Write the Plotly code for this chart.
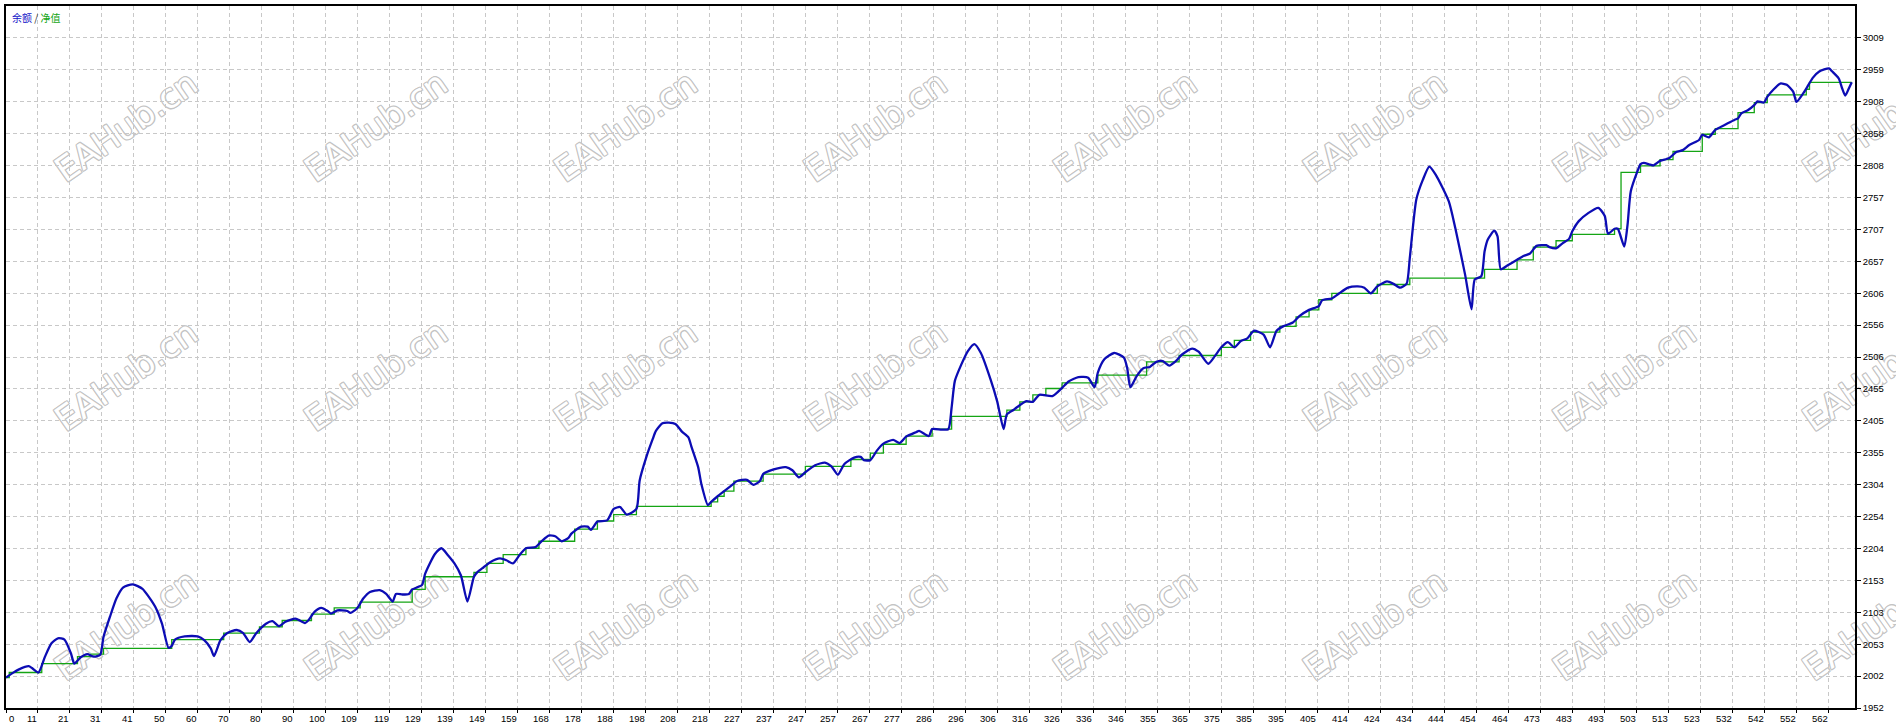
import plotly.graph_objects as go

# Blue line (余额): (trade number, value)
BALANCE = [
    (0, 2000), (2, 2007), (4, 2013), (7, 2018), (8, 2015), (10, 2008), (12, 2033), (14, 2054),
    (16, 2062), (18, 2060), (20, 2038), (21, 2022), (23, 2032), (25, 2037), (27, 2033), (29, 2036),
    (30, 2064), (32, 2096), (34, 2125), (36, 2142), (39, 2147), (42, 2140), (44, 2127), (46, 2111),
    (48, 2085), (50, 2047), (51, 2050), (52, 2060), (55, 2065), (59, 2065), (61, 2059), (63, 2046),
    (64, 2034), (66, 2059), (68, 2070), (71, 2075), (73, 2070), (75, 2056), (77, 2070), (80, 2085),
    (82, 2089), (84, 2081), (86, 2088), (89, 2093), (90, 2091), (92, 2086), (93, 2090), (95, 2104),
    (97, 2110), (99, 2105), (100, 2101), (102, 2106), (105, 2105), (106, 2102), (108, 2109), (110, 2125),
    (112, 2135), (115, 2138), (117, 2132), (119, 2120), (120, 2132), (122, 2131), (124, 2132), (125, 2139),
    (128, 2146), (129, 2164), (132, 2195), (134, 2204), (136, 2193), (138, 2180), (140, 2161), (142, 2120),
    (144, 2159), (145, 2166), (147, 2174), (149, 2182), (152, 2188), (154, 2185), (156, 2180), (158, 2193),
    (160, 2204), (163, 2206), (165, 2216), (167, 2224), (169, 2223), (171, 2215), (173, 2220), (174, 2227),
    (177, 2238), (179, 2238), (180, 2233), (182, 2246), (185, 2248), (187, 2266), (189, 2269), (191, 2257),
    (194, 2266), (195, 2311), (197, 2347), (199, 2376), (200, 2389), (202, 2401), (204, 2402), (206, 2400),
    (208, 2388), (210, 2379), (211, 2363), (213, 2332), (214, 2305), (216, 2272), (217, 2277), (219, 2286),
    (221, 2294), (223, 2302), (225, 2310), (228, 2312), (230, 2304), (232, 2310), (233, 2321), (236, 2328),
    (240, 2332), (242, 2327), (244, 2316), (246, 2324), (249, 2335), (252, 2339), (254, 2333), (256, 2320),
    (258, 2337), (261, 2347), (263, 2348), (264, 2343), (266, 2343), (268, 2358), (270, 2369), (273, 2375),
    (275, 2370), (277, 2380), (280, 2387), (281, 2389), (284, 2381), (285, 2392), (288, 2391), (290, 2392),
    (291, 2426), (292, 2468), (294, 2494), (296, 2515), (298, 2526), (300, 2512), (303, 2470), (305, 2436),
    (307, 2392), (308, 2415), (310, 2422), (311, 2426), (314, 2436), (316, 2435), (318, 2446), (322, 2444),
    (325, 2457), (327, 2467), (330, 2474), (333, 2473), (335, 2458), (336, 2481), (338, 2502), (341, 2512),
    (344, 2505), (345, 2489), (346, 2458), (348, 2476), (350, 2488), (352, 2490), (354, 2498), (356, 2499),
    (358, 2492), (360, 2499), (362, 2510), (365, 2519), (367, 2514), (370, 2495), (372, 2507), (374, 2521),
    (376, 2529), (378, 2521), (380, 2531), (382, 2535), (384, 2547), (387, 2541), (389, 2521), (391, 2547),
    (393, 2554), (396, 2560), (398, 2570), (401, 2580), (404, 2586), (405, 2595), (408, 2598), (410, 2605),
    (413, 2615), (416, 2617), (418, 2615), (420, 2606), (422, 2617), (425, 2625), (427, 2621), (429, 2615),
    (431, 2621), (432, 2662), (434, 2754), (436, 2785), (438, 2806), (440, 2793), (444, 2751), (446, 2709),
    (449, 2636), (451, 2581), (452, 2628), (454, 2633), (455, 2672), (456, 2691), (458, 2705), (459, 2696),
    (460, 2644), (462, 2650), (465, 2659), (467, 2665), (469, 2669), (471, 2681), (474, 2682), (475, 2679),
    (477, 2677), (479, 2685), (481, 2692), (482, 2704), (484, 2720), (487, 2733), (490, 2741), (492, 2728),
    (493, 2700), (495, 2708), (496, 2708), (498, 2680), (499, 2714), (500, 2767), (502, 2798), (503, 2810),
    (504, 2812), (506, 2809), (507, 2808), (509, 2815), (511, 2818), (512, 2820), (514, 2829), (516, 2832),
    (518, 2840), (521, 2848), (522, 2856), (524, 2852), (526, 2864), (529, 2872), (532, 2880), (533, 2882),
    (534, 2890), (536, 2895), (538, 2903), (539, 2909), (541, 2907), (542, 2916), (544, 2928), (546, 2937),
    (548, 2935), (550, 2924), (551, 2908), (553, 2921), (554, 2929), (556, 2946), (558, 2956), (561, 2961),
    (562, 2956), (564, 2945), (565, 2930), (566, 2918), (567, 2928), (568, 2939),
]

# Green line (净值): trade number where each level starts, level
EQUITY = [
    (0, 2000), (1, 2008), (11, 2022), (22, 2033), (26, 2037), (30, 2046), (51, 2060), (67, 2070),
    (78, 2080), (85, 2090), (94, 2100), (101, 2110), (109, 2119), (125, 2139), (129, 2159), (144, 2166),
    (148, 2180), (153, 2194), (160, 2204), (164, 2215), (175, 2234), (182, 2247), (187, 2257), (194, 2270),
    (217, 2277), (219, 2286), (221, 2294), (224, 2310), (233, 2321), (246, 2333), (260, 2344), (266, 2354),
    (270, 2368), (277, 2381), (285, 2392), (291, 2412), (308, 2422), (312, 2435), (316, 2446), (320, 2456),
    (325, 2465), (336, 2477), (351, 2498), (361, 2508), (374, 2521), (378, 2532), (383, 2545), (392, 2554),
    (397, 2569), (401, 2580), (404, 2596), (408, 2606), (422, 2620), (432, 2630), (455, 2644), (465, 2659),
    (470, 2679), (477, 2689), (482, 2699), (495, 2708), (497, 2797), (503, 2807), (509, 2817), (513, 2830),
    (522, 2857), (526, 2866), (533, 2891), (538, 2907), (542, 2919), (554, 2928), (555, 2939), (568, 2939),
]

X_TICK_LABELS = ["0", "11", "21", "31", "41", "50", "60", "70", "80", "90", "100", "109", "119", "129",
                 "139", "149", "159", "168", "178", "188", "198", "208", "218", "227", "237", "247",
                 "257", "267", "277", "286", "296", "306", "316", "326", "336", "346", "355", "365",
                 "375", "385", "395", "405", "414", "424", "434", "444", "454", "464", "473", "483",
                 "493", "503", "513", "523", "532", "542", "552", "562"]
Y_TICK_LABELS = ["1952", "2002", "2053", "2103", "2153", "2204", "2254", "2304", "2355", "2405", "2455",
                 "2506", "2556", "2606", "2657", "2707", "2757", "2808", "2858", "2908", "2959", "3009"]

X_STEP = 9.84          # trades between vertical grid lines
Y_MIN, Y_STEP = 1952, 151 / 3
X_MAX = 569

W, H = 1896, 726
ML, MR, MT, MB = 4, 41, 4, 18
GRID = "#c8c8c8"
LABEL_FONT = dict(family="Liberation Sans", size=9.5, color="#000000")

bal_x, bal_y = zip(*BALANCE)
eq_x, eq_y = zip(*EQUITY)

fig = go.Figure()
fig.add_trace(go.Scatter(x=eq_x, y=eq_y, mode="lines", name="净值",
                         line=dict(color="#14a514", width=1.3, shape="hv")))
fig.add_trace(go.Scatter(x=bal_x, y=bal_y, mode="lines", name="余额",
                         line=dict(color="#0c0cb4", width=2.3, shape="spline", smoothing=0.6)))

axis_common = dict(showgrid=True, gridcolor=GRID, gridwidth=1, griddash="4px,3px",
                   showline=True, linecolor="#000000", linewidth=1.5, mirror=True,
                   zeroline=False, ticks="outside", tickcolor="#000000")

fig.update_layout(
    width=W, height=H,
    margin=dict(l=ML, r=MR, t=MT, b=MB, pad=0),
    paper_bgcolor="white", plot_bgcolor="white",
    showlegend=False,
    xaxis=dict(range=[0, X_MAX], tickvals=[k * X_STEP for k in range(len(X_TICK_LABELS))],
               showticklabels=False, ticklen=3, **axis_common),
    yaxis=dict(side="right", range=[Y_MIN, Y_MIN + 22 * Y_STEP],
               tickvals=[Y_MIN + k * Y_STEP for k in range(len(Y_TICK_LABELS))],
               ticktext=Y_TICK_LABELS, ticklen=4, tickfont=LABEL_FONT, **axis_common),
)

# x labels sit to the left of their tick, as in the original
for k, lab in enumerate(X_TICK_LABELS):
    fig.add_annotation(x=k * X_STEP, y=0, xref="x", yref="paper", text=lab, showarrow=False,
                       xanchor="left" if k == 0 else "right", yanchor="top",
                       xshift=1, yshift=-3, font=LABEL_FONT)

# legend text at the top left
fig.add_annotation(x=0.002, y=1, xref="paper", yref="paper", showarrow=False,
                   xanchor="left", yanchor="top", yshift=-2,
                   text='<span style="color:#1414c8">余额</span>'
                        '<span style="color:#333333"> / </span>'
                        '<span style="color:#14a514">净值</span>',
                   font=dict(family="Noto Sans CJK SC", size=10))

# watermark grid, drawn under the grid lines as outlined text
pw, ph = W - ML - MR, H - MT - MB
outline = ", ".join(f"{dx}px {dy}px 0 #c4c4c4" for dx, dy in
                    [(1, 0), (-1, 0), (0, 1), (0, -1), (1, 1), (-1, -1), (1, -1), (-1, 1)])
for cy in (123, 373, 623):
    for i in range(8):
        cx = 123 + 250 * i
        px, py = (cx - ML) / pw, 1 - (cy - MT) / ph
        fig.add_shape(type="rect", xref="paper", yref="paper", layer="below",
                      x0=px - 0.0005, x1=px + 0.0005, y0=py - 0.001, y1=py + 0.001,
                      line=dict(width=0), fillcolor="rgba(0,0,0,0)",
                      label=dict(text="EAHub.cn", textangle=-35, textposition="middle center",
                                 font=dict(family="DejaVu Sans", size=34, color="white",
                                           shadow=outline)))

# the page body has a default 8px margin; remove it so the figure fills the window
fig.write_html("out.html", config={"displayModeBar": False},
               post_script="document.body.style.margin='0';")
